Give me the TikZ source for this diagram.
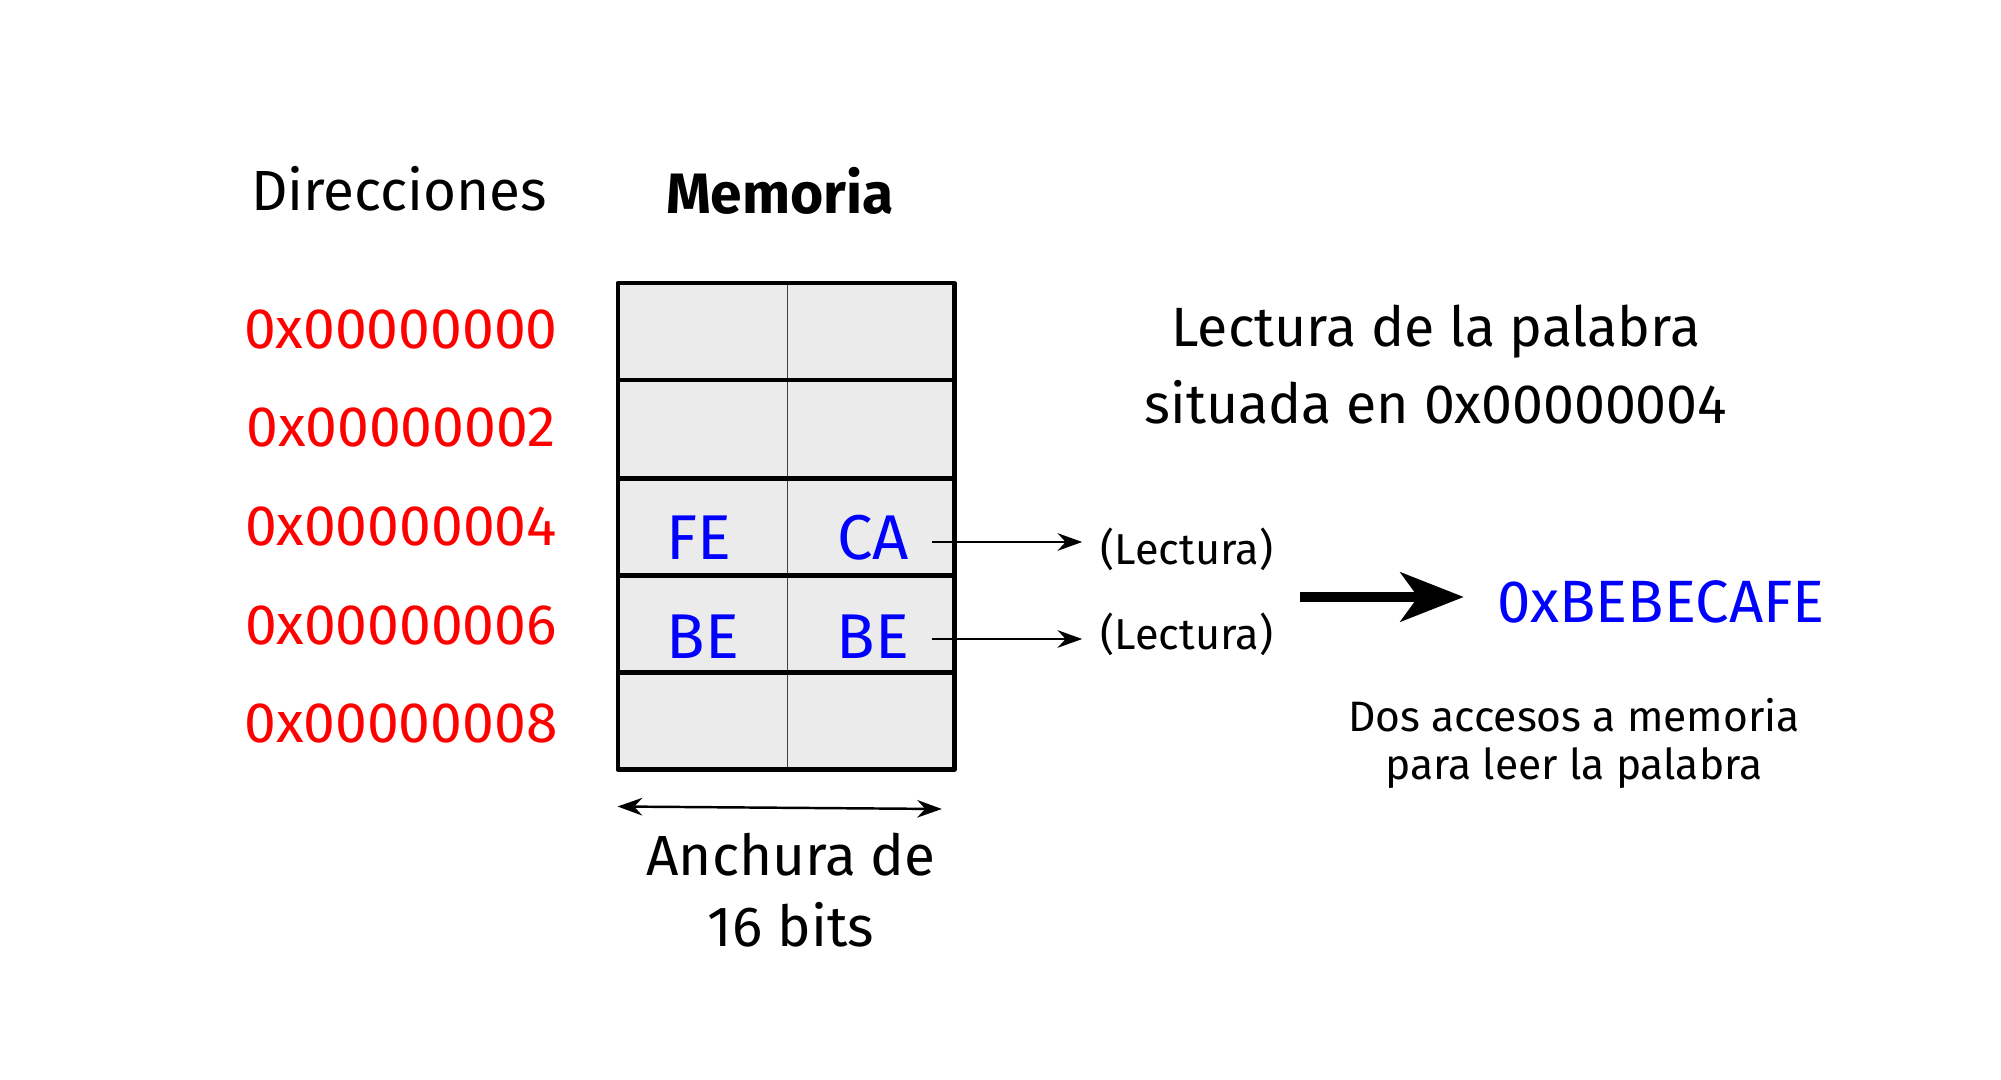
\documentclass[tikz,border=0pt]{standalone}
\usepackage{fontspec}
\setmainfont{Fira Sans}
\usetikzlibrary{arrows.meta}
\definecolor{addrred}{RGB}{255,0,0}
\definecolor{hexblue}{RGB}{0,0,255}
\definecolor{cellgray}{RGB}{235,235,235}
\begin{document}
\begin{tikzpicture}[x=0.01cm,y=-0.01cm,
  lbl/.style={inner sep=0pt, anchor=center},
  addr/.style={lbl, text=addrred, font=\fontsize{16.2}{20}\selectfont},
  hexv/.style={lbl, text=hexblue, font=\fontsize{18}{22}\selectfont},
  head/.style={lbl, font=\fontsize{16.1}{20}\selectfont},
  big/.style={lbl, font=\fontsize{15.75}{19}\selectfont},
  small/.style={lbl, font=\fontsize{12.3}{15}\selectfont},
  note/.style={lbl, font=\fontsize{12.1}{15}\selectfont},
  thick line/.style={line width=1.2pt},
  thin arrow/.style={line width=0.7pt, -{Stealth[length=7pt,width=5pt]}},
]
\useasboundingbox (0,0) rectangle (2001,1080);

% grid
\coordinate (gtl) at (617.6,283.3);
\coordinate (gbr) at (954.5,769.5);
\fill[cellgray] (gtl) rectangle (gbr);
\draw[line width=0.5pt, black!75] (787.4,283.3) -- (787.4,769.5);
\foreach \yy in {380.3,478.5,575.5,672.5}
  \draw[thick line] (617.6,\yy) -- (954.5,\yy);
\draw[thick line, line join=round] (gtl) rectangle (gbr);

% headings
\node[head] (dir) at (399,189) {Direcciones};
\node[head, font=\fontsize{16.2}{20}\selectfont\bfseries] (mem) at (780,191) {Memoria};

% addresses
\node[addr] (a0) at (401,329.2) {0x00000000};
\node[addr] (a2) at (401,427.5) {0x00000002};
\node[addr] (a4) at (401,527) {0x00000004};
\node[addr] (a6) at (401,625.3) {0x00000006};
\node[addr] (a8) at (401,723.5) {0x00000008};

% cell contents
\node[hexv] (fe) at (699,538) {FE};
\node[hexv] (ca) at (873,538) {CA};
\node[hexv] (be1) at (703,637) {BE};
\node[hexv] (be2) at (873,637) {BE};

% reads
\node[small] (l1) at (1187,549) {(Lectura)};
\node[small] (l2) at (1187,634) {(Lectura)};
\coordinate (r1) at (931.5,542);
\coordinate (r2) at (931.5,639);
\draw[thin arrow] (r1) -- ([xshift=-18*0.01cm]r1 -| l1.west);
\draw[thin arrow] (r2) -- ([xshift=-18*0.01cm]r2 -| l2.west);

% title
\node[big] (t1) at (1436,332) {Lectura de la palabra};
\node[big] (t2) at (1436,402) {situada en 0x00000004};

% result
\node[hexv, font=\fontsize{17}{21}\selectfont] (res) at (1661,602) {0xBEBECAFE};
\coordinate (bs) at (1300,597);
\draw[line width=2.6pt, -{Stealth[length=18pt,width=14pt,inset=5pt]}] (bs) -- ([xshift=-33*0.01cm]bs -| res.west);

\node[note] (d1) at (1574,715) {Dos accesos a memoria};
\node[note] (d2) at (1574,768) {para leer la palabra};

% width
\coordinate (wl) at (617.6,806.5);
\coordinate (wr) at (941.8,809);
\draw[line width=0.7pt, {Stealth[length=7pt,width=5pt]}-{Stealth[length=7pt,width=5pt]}] (wl) -- (wr);
\node[head] (w1) at (791,855) {Anchura de};
\node[head] (w2) at (791,925) {16 bits};
\end{tikzpicture}
\end{document}
